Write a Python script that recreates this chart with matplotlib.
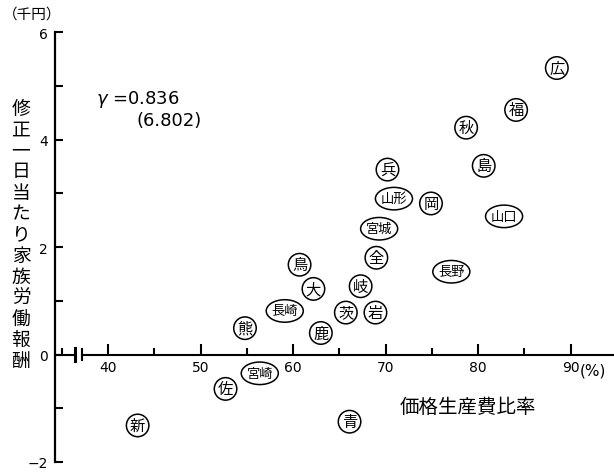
import matplotlib.pyplot as plt
from matplotlib.ticker import MultipleLocator
from matplotlib.path import Path
from matplotlib.transforms import Affine2D

# prefecture abbreviations (全 = national average)
labels = ['広', '福', '秋', '島', '兵', '山形', '岡', '宮城', '山口', '全', '長野', '鳥',
          '大', '岐', '長崎', '茨', '岩', '熊', '鹿', '宮崎', '佐', '新', '青']
price_ratio = [88.5, 84.1, 78.7, 80.6, 70.2, 70.9, 74.9, 69.3, 82.8, 69.0, 77.1, 60.7,
               62.2, 67.3, 59.1, 65.7, 68.9, 54.8, 63.0, 56.4, 52.7, 43.2, 66.1]
labor_reward = [5.33, 4.55, 4.22, 3.51, 3.44, 2.90, 2.81, 2.34, 2.57, 1.80, 1.54, 1.67,
                1.22, 1.27, 0.81, 0.78, 0.78, 0.49, 0.40, -0.35, -0.64, -1.32, -1.25]
x_ticks = [40, 50, 60, 70, 80, 90]
y_ticks = [-2, 0, 2, 4, 6]

jp = ['Noto Sans CJK JP', 'DejaVu Sans']
W, H = 614, 477


def oval(x0, y0, width, height, mutation_size):
    # ellipse around the text box, a bit of padding on each side
    a = width / 2 + 0.4 * mutation_size
    b = height / 2 + 0.36 * mutation_size
    tr = Affine2D().scale(a, b).translate(x0 + width / 2, y0 + height / 2)
    return tr.transform_path(Path.unit_circle())


fig = plt.figure(figsize=(W / 100, H / 100), dpi=100)
ax = fig.add_axes([55 / W, 14 / H, (W - 55) / W, 430 / H])
xmin, xmax = 34.27, 94.68
ax.set_xlim(xmin, xmax)
ax.set_ylim(-2, 6)

for s in ['top', 'right']:
    ax.spines[s].set_visible(False)
ax.spines['left'].set_linewidth(1.6)
ax.spines['bottom'].set_position(('data', 0))
ax.spines['bottom'].set_linewidth(1.5)
ax.spines['bottom'].set_bounds(37.19, xmax)

# axis break on x
ax.plot([xmin, 36.43], [0, 0], color='black', lw=1.5, clip_on=False)
ax.plot([36.43, 36.43], [-0.12, 0.12], color='black', lw=2.2, clip_on=False)
ax.plot([37.19, 37.19], [-0.1, 0.1], color='black', lw=1.5, clip_on=False)

ax.set_xticks(x_ticks)
ax.xaxis.set_minor_locator(MultipleLocator(5))
ax.set_yticks(y_ticks)
ax.yaxis.set_minor_locator(MultipleLocator(1))
ax.tick_params(axis='x', which='major', direction='in', length=8, width=1.5,
               labelsize=10, pad=4)
ax.tick_params(axis='x', which='minor', direction='in', length=5, width=1.5)
ax.tick_params(axis='y', which='both', direction='in', length=6, width=1.5,
               labelsize=10, pad=5)
ax.set_yticklabels(['\u22122', '0', '2', '4', '6'])
ax.annotate('(%)', xy=(90, 0), xytext=(6.5, -5.5), textcoords='offset points',
            ha='left', va='top', fontsize=11)

for lab, x, y in zip(labels, price_ratio, labor_reward):
    if len(lab) == 1:
        box = dict(boxstyle='circle,pad=0.18', fc='white', ec='black', lw=1.1)
        fs = 11
    else:
        box = dict(boxstyle=oval, fc='white', ec='black', lw=1.1)
        fs = 9.5
    ax.text(x, y, lab, ha='center', va='center', fontsize=fs, family=jp,
            bbox=box)

fig.text(3 / W, 1 - 15 / H, '（千円）', fontsize=10.5, family=jp,
         ha='left', va='center')
fig.text(21 / W, 1 - 235 / H, '\n'.join('修正一日当たり家族労働報酬'), fontsize=13.5,
         family=jp, ha='center', va='center', linespacing=1.0)
fig.text(468 / W, 1 - 407 / H, '価格生産費比率', fontsize=14, family=jp,
         ha='center', va='center')
fig.text(96 / W, 1 - 100 / H, r'$\gamma$ =0.836', fontsize=13, ha='left', va='center')
fig.text(137 / W, 1 - 121 / H, '(6.802)', fontsize=13, ha='left', va='center')

fig.savefig('out.png', dpi=100)
